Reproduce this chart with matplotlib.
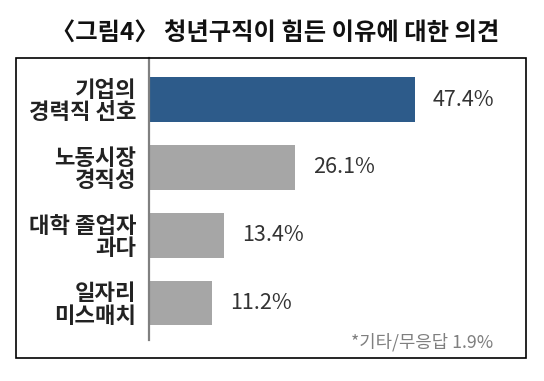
import matplotlib
matplotlib.use("Agg")
import matplotlib.pyplot as plt
from matplotlib.patches import Rectangle

plt.rcParams['font.family'] = ['Noto Sans CJK KR', 'DejaVu Sans']

# data
categories = ["기업의\n경력직 선호", "노동시장\n경직성", "대학 졸업자\n과다", "일자리\n미스매치"]
values = [47.4, 26.1, 13.4, 11.2]
colors = ["#2D5B8A", "#A6A6A6", "#A6A6A6", "#A6A6A6"]
title = "〈그림4〉 청년구직이 힘든 이유에 대한 의견"
note = "*기타/무응답 1.9%"

W, H = 544, 381
fig = plt.figure(figsize=(W / 100, H / 100), dpi=100)

# axes placed in pixel terms
left, right, top, bottom = 149, 526, 58, 340
ax = fig.add_axes([left / W, (H - bottom) / H, (right - left) / W, (bottom - top) / H])

ypos = list(range(len(values)))
ax.barh(ypos, values, height=0.66, color=colors)
ax.set_xlim(0, (right - left) / 5.61)
ax.set_ylim(3.546, -0.612)

for y, v in zip(ypos, values):
    ax.annotate(f"{v:.1f}%", (v, y), xytext=(13, 0), textcoords="offset points",
                ha="left", va="center", fontsize=15.5, color="#333333")

ax.set_yticks(ypos)
ax.set_yticklabels(categories, fontsize=16, fontweight="bold", color="#222222")
for lbl in ax.get_yticklabels():
    lbl.set_linespacing(0.95)
    lbl.set_multialignment("right")
ax.tick_params(axis="y", length=0, pad=9)
ax.set_xticks([])

for s in ["top", "right", "bottom"]:
    ax.spines[s].set_visible(False)
ax.spines["left"].set_color("#808080")
ax.spines["left"].set_linewidth(1.6)

# outer frame
fig.add_artist(Rectangle((16 / W, (H - 358) / H), 510 / W, 300 / H,
                         transform=fig.transFigure, fill=False, lw=1.2, ec="black"))

fig.text(275 / W, 1 - 33 / H, title, ha="center", va="center", fontsize=17.5,
         fontweight="bold", color="#111111")
fig.text(493 / W, 1 - 342 / H, note, ha="right", va="center", fontsize=12.8,
         color="#7F7F7F")

fig.savefig("out.png", dpi=100)
